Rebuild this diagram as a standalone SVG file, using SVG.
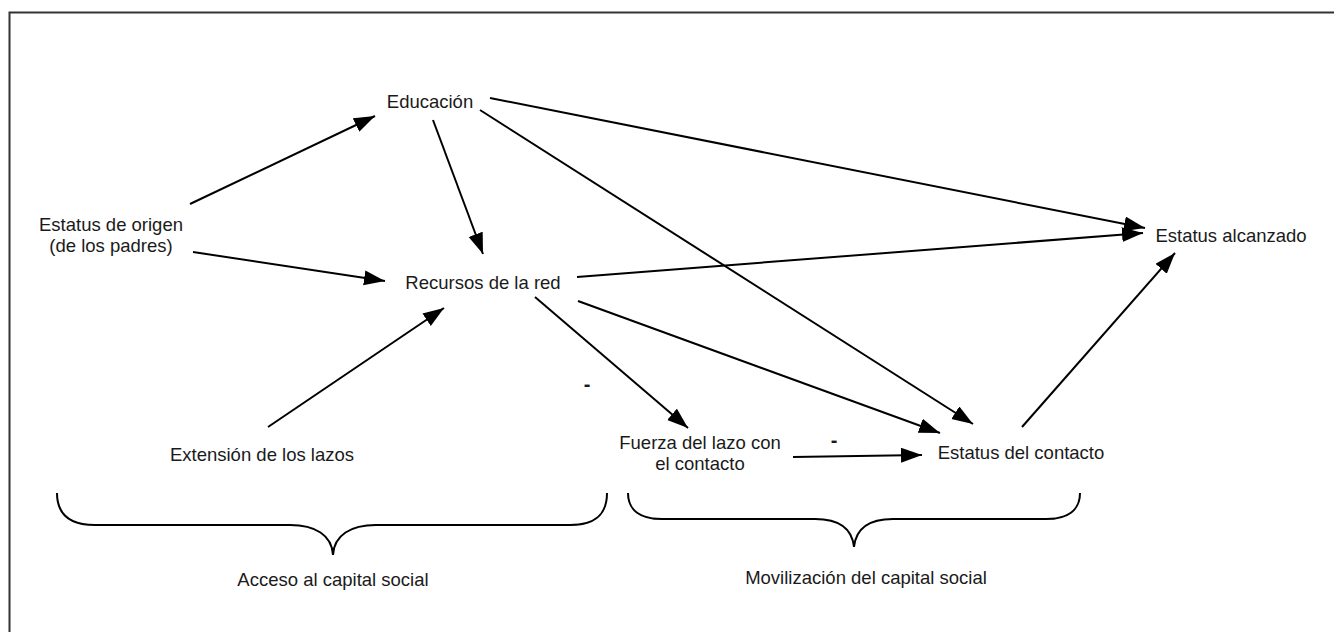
<svg xmlns="http://www.w3.org/2000/svg" width="1334" height="632" viewBox="0 0 1334 632">
<style>
text{font-family:"Liberation Sans",Arial,sans-serif;font-size:18.5px;fill:#1a1a1a;text-anchor:middle}
.sign{font-weight:bold;font-size:20px}
.c line{stroke:#000;stroke-width:2;marker-end:url(#ah)}
.brace{fill:none;stroke:#000;stroke-width:2}
</style>
<defs>
<marker id="ah" markerUnits="userSpaceOnUse" markerWidth="24" markerHeight="16" refX="21" refY="7.5" orient="auto">
<path d="M0,0 L21,7.5 L0,15 Z" fill="#000"/>
</marker>
</defs>
<rect x="9.5" y="12.5" width="1340" height="640" fill="#fff" stroke="#333" stroke-width="2"/>
<g id="connectors" class="c">
<line x1="190" y1="204" x2="375" y2="116"/>
<line x1="193" y1="252" x2="385" y2="281"/>
<line x1="433" y1="120" x2="483" y2="254"/>
<line x1="490" y1="98" x2="1145" y2="228"/>
<line x1="480" y1="110" x2="973" y2="424"/>
<line x1="577" y1="277" x2="1143" y2="233"/>
<line x1="535" y1="297" x2="688" y2="428"/>
<line x1="578" y1="301" x2="940" y2="433"/>
<line x1="268" y1="427" x2="444" y2="308"/>
<line x1="793" y1="457" x2="922" y2="455"/>
<line x1="1022" y1="427" x2="1175" y2="253"/>
</g>
<g id="educacion"><text x="430" y="108">Educación</text></g>
<g id="estatus-origen"><text x="111" y="231">Estatus de origen</text><text x="111" y="252">(de los padres)</text></g>
<g id="recursos"><text x="483" y="289">Recursos de la red</text></g>
<g id="extension"><text x="262" y="461">Extensión de los lazos</text></g>
<g id="fuerza"><text x="700" y="449">Fuerza del lazo con</text><text x="700" y="470">el contacto</text></g>
<g id="estatus-contacto"><text x="1021" y="459">Estatus del contacto</text></g>
<g id="estatus-alcanzado"><text x="1231" y="242">Estatus alcanzado</text></g>
<g id="signs"><text class="sign" x="587" y="391">-</text><text class="sign" x="834" y="447">-</text></g>
<g id="acceso">
<path class="brace" d="M57,493 C57,515 70,525 95,525 L290,525 C315,525 332,535 333,555 C334,535 351,525 376,525 L570,525 C595,525 607,515 607,493"/>
<text x="333" y="586">Acceso al capital social</text>
</g>
<g id="movilizacion">
<path class="brace" d="M628,493 C628,510 640,519 662,519 L815,519 C838,519 852,528 854,547 C856,528 870,519 893,519 L1046,519 C1068,519 1080,510 1080,493"/>
<text x="866" y="584">Movilización del capital social</text>
</g>
</svg>
